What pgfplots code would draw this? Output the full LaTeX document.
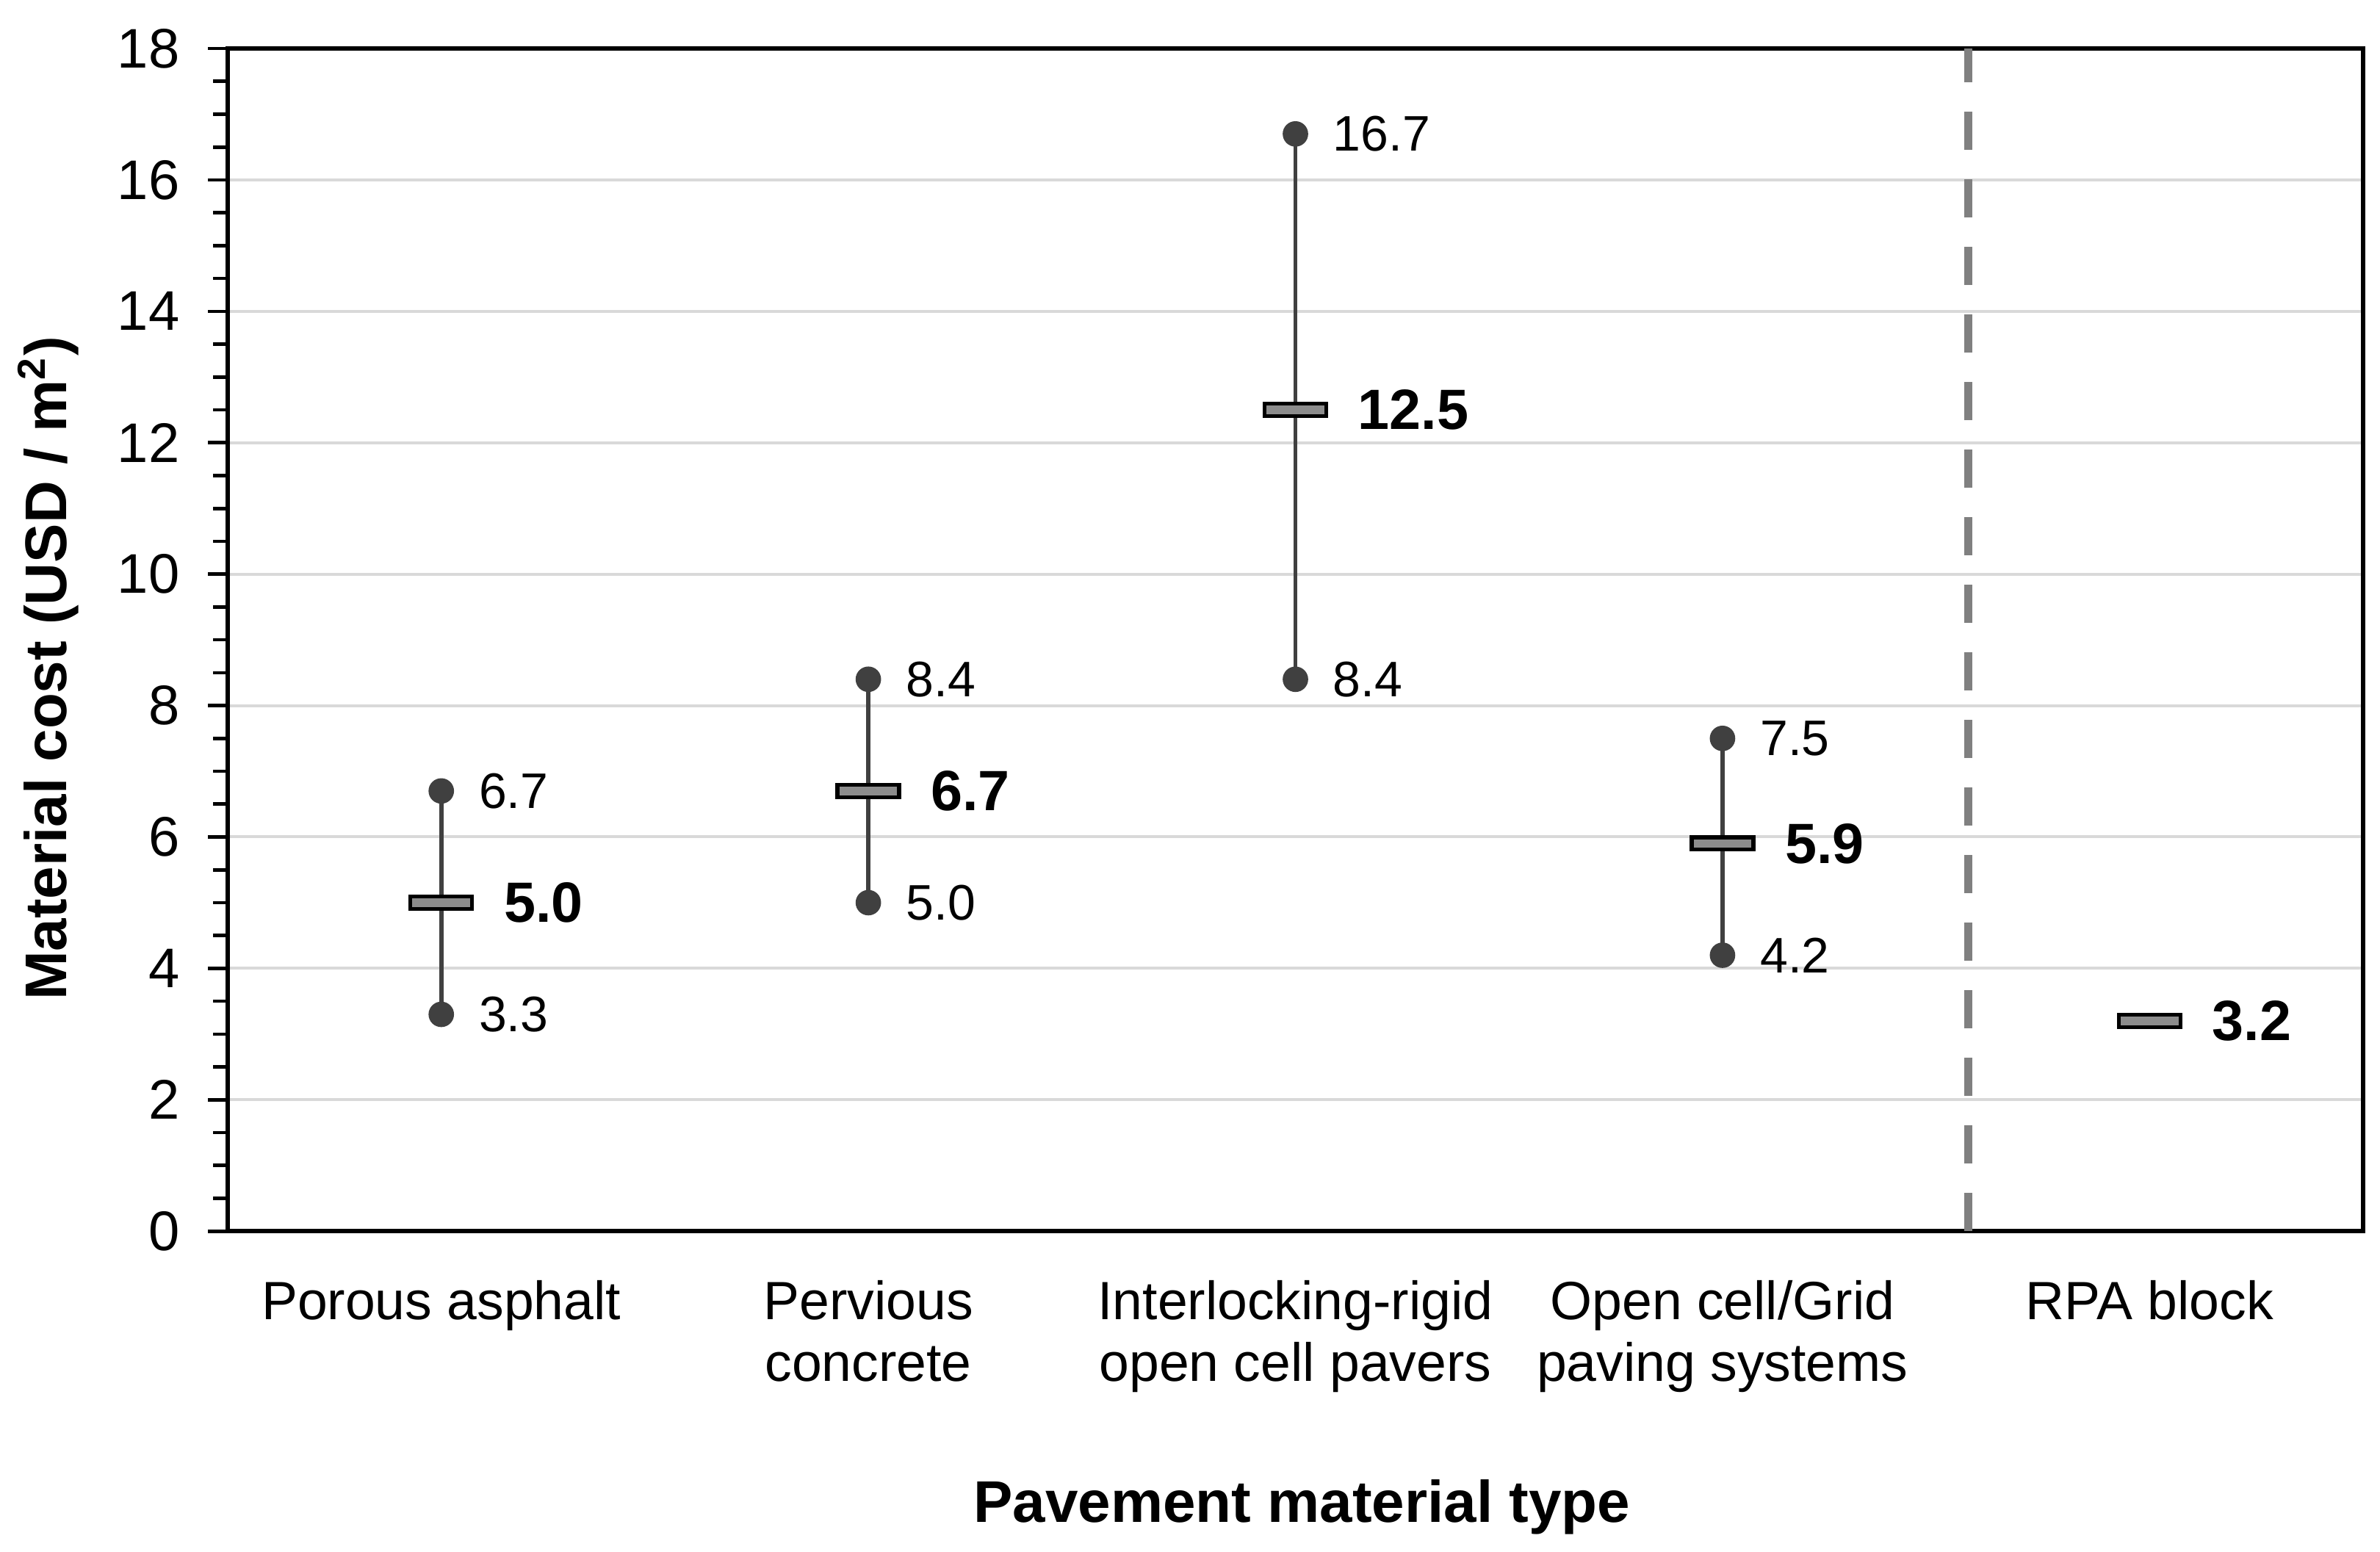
\documentclass[border=0pt]{standalone}
\usepackage{pgfplots}
\pgfplotsset{compat=1.18}
\usepackage{fontspec}
\setmainfont{Liberation Sans}
\definecolor{dk}{HTML}{404040}
\definecolor{md}{HTML}{8C8C8C}
\definecolor{grd}{HTML}{D9D9D9}
\definecolor{sepgray}{HTML}{808080}
\pgfdeclareplotmark{medbar}{%
  \pgfpathrectangle{\pgfpoint{-6.3pt}{-1.25pt}}{\pgfpoint{12.6pt}{2.5pt}}%
  \pgfusepathqfillstroke}
\begin{document}
\begin{tikzpicture}
\path[use as bounding box] (-46.5pt,-65.4pt) rectangle (439.45pt,251.4pt);
\begin{axis}[
  at={(0,0)}, anchor=south west,
  width=436pt, height=241.5pt, scale only axis,
  xmin=-0.5, xmax=4.5, ymin=0, ymax=18,
  xtick={0,1,2,3,4},
  xticklabels={Porous asphalt, Pervious\\concrete, Interlocking-rigid\\open cell pavers, Open cell/Grid\\paving systems, RPA block},
  xticklabel style={align=center, font=\fontsize{11}{12.7}\selectfont, yshift=-2.5pt},
  xtick style={draw=none},
  ytick={0,2,...,18},
  minor y tick num=3,
  ytick pos=left,
  tick align=outside,
  major tick length=4pt, minor tick length=3pt,
  every tick/.style={black, line width=0.7pt},
  yticklabel style={font=\fontsize{11.4}{13}\selectfont, xshift=-2.3pt},
  /pgf/number format/assume math mode=true,
  ymajorgrids, major grid style={grd, line width=0.6pt},
  axis line style={black, line width=0.9pt},
  xlabel={\textbf{Pavement material type}},
  xlabel style={at={(axis description cs:0.503,0)}, anchor=base, yshift=-59.5pt, font=\fontsize{12}{14}\selectfont},
  ylabel={\textbf{Material cost (USD / m\textsuperscript{2})}},
  ylabel style={at={(axis description cs:-0.0755,0.476)}, anchor=base, font=\fontsize{12}{14}\selectfont},
  clip=false,
]
% separator
\addplot[sepgray, line width=1.6pt, dash pattern=on 7.8pt off 6pt] coordinates {(3.576,0) (3.576,18)};
% whiskers
\addplot[dk, line width=0.85pt] coordinates {(0,3.3) (0,6.7)};
\addplot[dk, line width=0.85pt] coordinates {(1,5.0) (1,8.4)};
\addplot[dk, line width=0.85pt] coordinates {(2,8.4) (2,16.7)};
\addplot[dk, line width=0.85pt] coordinates {(3,4.2) (3,7.5)};
% min / max
\addplot[only marks, mark=*, mark size=2.4pt, color=dk,
  nodes near coords, point meta=explicit symbolic,
  nodes near coords style={anchor=west, inner sep=0pt, xshift=7.5pt, font=\fontsize{10.2}{12}\selectfont, text=black}]
  coordinates {(0,3.3)[3.3] (0,6.7)[6.7] (1,5.0)[5.0] (1,8.4)[8.4] (2,8.4)[8.4] (2,16.7)[16.7] (3,4.2)[4.2] (3,7.5)[7.5]};
% medians
\addplot[only marks, mark=medbar, mark options={fill=md, draw=black, line width=0.8pt},
  nodes near coords, point meta=explicit symbolic,
  nodes near coords style={anchor=west, inner sep=0pt, xshift=12.4pt, font=\bfseries\fontsize{11.6}{13}\selectfont, text=black}]
  coordinates {(0,5.0)[5.0] (1,6.7)[6.7] (2,12.5)[12.5] (3,5.9)[5.9] (4,3.2)[3.2]};
\end{axis}
\end{tikzpicture}
\end{document}
